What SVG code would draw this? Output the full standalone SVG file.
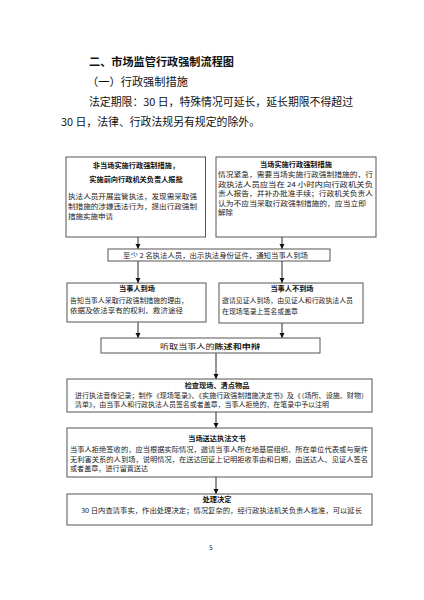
<svg xmlns="http://www.w3.org/2000/svg" width="424" height="600" viewBox="0 0 424 600">
<defs>
<marker id="ah" markerWidth="6" markerHeight="6" refX="5" refY="3" orient="auto" markerUnits="userSpaceOnUse">
<path d="M0,0.5 L5,3 L0,5.5 Z" fill="#111"/>
</marker>
<style>
text{font-family:"Noto Sans CJK SC","Noto Sans",sans-serif;fill:#222;}
.h1{font-size:11.2px;font-weight:bold;fill:#111;}
.h2{font-size:11px;fill:#111;}
.p{font-size:10.8px;fill:#111;}
.t{font-size:7.2px;font-weight:bold;text-anchor:middle;fill:#111;}
.b{font-size:6.5px;}
.box{fill:#fff;stroke:#555;stroke-width:1;}
.ln{stroke:#111;stroke-width:0.9;fill:none;marker-end:url(#ah);}
</style>
</defs>
<rect width="424" height="600" fill="#fff"/>
<g id="header">
<text class="h1" x="89" y="66" textLength="145" lengthAdjust="spacingAndGlyphs">二、市场监管行政强制流程图</text>
<text class="h2" x="87" y="86" textLength="101" lengthAdjust="spacingAndGlyphs">（一）行政强制措施</text>
<text class="p" x="89" y="106" textLength="264" lengthAdjust="spacingAndGlyphs">法定期限：30 日，特殊情况可延长，延长期限不得超过</text>
<text class="p" x="61" y="126" textLength="199" lengthAdjust="spacingAndGlyphs">30 日，法律、行政法规另有规定的除外。</text>
</g>
<g id="connectors">
<line class="ln" x1="138" y1="237" x2="138" y2="249"/>
<line class="ln" x1="282" y1="237" x2="282" y2="249"/>
<line class="ln" x1="138" y1="261" x2="138" y2="283"/>
<line class="ln" x1="282" y1="261" x2="282" y2="283"/>
<line class="ln" x1="138" y1="322" x2="138" y2="338"/>
<line class="ln" x1="282" y1="323" x2="282" y2="338"/>
<line class="ln" x1="216" y1="353" x2="216" y2="379"/>
<line class="ln" x1="216" y1="412" x2="216" y2="428"/>
<line class="ln" x1="216" y1="477" x2="216" y2="494"/>
</g>
<g id="n1">
<rect class="box" x="66" y="157" width="139.5" height="80"/>
<text class="t" x="136" y="168">非当场实施行政强制措施，</text>
<text class="t" x="136" y="182">实施前向行政机关负责人报批</text>
<text class="b" x="68" y="199" textLength="129" lengthAdjust="spacingAndGlyphs">执法人员开展监管执法，发现需采取强</text>
<text class="b" x="68" y="209" textLength="129" lengthAdjust="spacingAndGlyphs">制措施的涉嫌违法行为，提出行政强制</text>
<text class="b" x="68" y="219" textLength="45" lengthAdjust="spacingAndGlyphs">措施实施申请</text>
</g>
<g id="n2">
<rect class="box" x="216" y="157" width="160" height="80"/>
<text class="t" x="296" y="167">当场实施行政强制措施</text>
<text class="b" x="218" y="177" textLength="155" lengthAdjust="spacingAndGlyphs">情况紧急，需要当场实施行政强制措施的，行</text>
<text class="b" x="218" y="186.5" textLength="155" lengthAdjust="spacingAndGlyphs">政执法人员应当在 24 小时内向行政机关负</text>
<text class="b" x="218" y="196" textLength="155" lengthAdjust="spacingAndGlyphs">责人报告，并补办批准手续；行政机关负责人</text>
<text class="b" x="218" y="205.5" textLength="148" lengthAdjust="spacingAndGlyphs">认为不应当采取行政强制措施的，应当立即</text>
<text class="b" x="218" y="215" textLength="15" lengthAdjust="spacingAndGlyphs">解除</text>
</g>
<g id="n3">
<rect class="box" x="108" y="249" width="222" height="12"/>
<text class="b" x="123" y="257.5" textLength="185" lengthAdjust="spacingAndGlyphs">至少 2 名执法人员，出示执法身份证件，通知当事人到场</text>
</g>
<g id="n4">
<rect class="box" x="67" y="283" width="139" height="39"/>
<text class="t" x="137" y="291">当事人到场</text>
<text class="b" x="70" y="303" textLength="118" lengthAdjust="spacingAndGlyphs">告知当事人采取行政强制措施的理由，</text>
<text class="b" x="70" y="313" textLength="113" lengthAdjust="spacingAndGlyphs">依据及依法享有的权利、救济途径</text>
</g>
<g id="n5">
<rect class="box" x="219" y="283" width="144" height="40"/>
<text class="t" x="292" y="291">当事人不到场</text>
<text class="b" x="222" y="303" textLength="131" lengthAdjust="spacingAndGlyphs">邀请见证人到场，由见证人和行政执法人员</text>
<text class="b" x="222" y="314" textLength="76" lengthAdjust="spacingAndGlyphs">在现场笔录上签名或盖章</text>
</g>
<g id="n6">
<rect class="box" x="101" y="338" width="219" height="15"/>
<text class="b" x="160" y="348.5" textLength="100" lengthAdjust="spacingAndGlyphs">听取当事人的<tspan font-weight="bold">陈述和申辩</tspan></text>
</g>
<g id="n7">
<rect class="box" x="67" y="379" width="305" height="33"/>
<text class="t" x="217" y="388">检查现场、清点物品</text>
<text class="b" x="75" y="397.5" textLength="293" lengthAdjust="spacingAndGlyphs">进行执法音像记录；制作《现场笔录》、《实施行政强制措施决定书》及《（场所、设施、财物）</text>
<text class="b" x="75" y="407" textLength="254" lengthAdjust="spacingAndGlyphs">清单》，由当事人和行政执法人员签名或者盖章，当事人拒绝的，在笔录中予以注明</text>
</g>
<g id="n8">
<rect class="box" x="67" y="428" width="305" height="49"/>
<text class="t" x="217" y="441">当场送达执法文书</text>
<text class="b" x="70" y="452" textLength="298" lengthAdjust="spacingAndGlyphs">当事人拒绝签收的，应当根据实际情况，邀请当事人所在地基层组织、所在单位代表或与案件</text>
<text class="b" x="70" y="461.5" textLength="298" lengthAdjust="spacingAndGlyphs">无利害关系的人到场，说明情况，在送达回证上记明拒收事由和日期，由送达人、见证人签名</text>
<text class="b" x="70" y="471" textLength="78" lengthAdjust="spacingAndGlyphs">或者盖章，进行留置送达</text>
</g>
<g id="n9">
<rect class="box" x="67" y="494" width="305" height="31"/>
<text class="t" x="217" y="502">处理决定</text>
<text class="b" x="81" y="513" textLength="281" lengthAdjust="spacingAndGlyphs">30 日内查清事实，作出处理决定；情况复杂的，经行政执法机关负责人批准，可以延长</text>
</g>
<text x="211" y="550" style="font-size:6px;text-anchor:middle;">5</text>
</svg>
